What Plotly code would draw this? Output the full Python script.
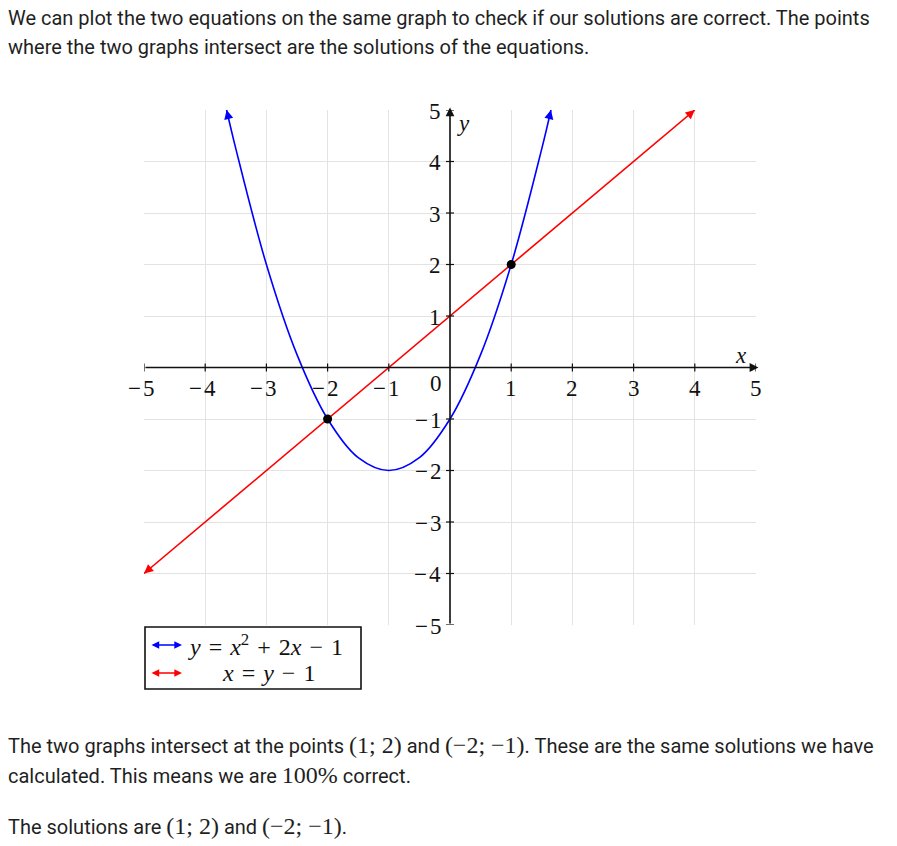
import math
import plotly.graph_objects as go

# ---------------- data ----------------
x_ticks = [-5, -4, -3, -2, -1, 0, 1, 2, 3, 4, 5]
y_ticks = [-5, -4, -3, -2, -1, 0, 1, 2, 3, 4, 5]

# parabola y = x^2 + 2x - 1
par_x = [-3.65, -3.5, -3.0, -2.5, -2.0, -1.5, -1.0, -0.5, 0.0, 0.5, 1.0, 1.5, 1.65]
par_y = [5.0, 4.25, 2.0, 0.25, -1.0, -1.75, -2.0, -1.75, -1.0, 0.25, 2.0, 4.25, 5.0]

# line x = y - 1
line_x = [-5, 4]
line_y = [-4, 5]

# intersection points
pts_x = [1, -2]
pts_y = [2, -1]

SP = " &#8202;"
legend_labels = [f"<i>y</i>{SP}={SP}<i>x</i><sup>2</sup>{SP}+{SP}2<i>x</i>{SP}−{SP}1",
                 f"<i>x</i>{SP}={SP}<i>y</i>{SP}−{SP}1"]

top_lines = [
    "We can plot the two equations on the same graph to check if our solutions are correct. The points",
    "where the two graphs intersect are the solutions of the equations.",
]

BLUE = "#0000ff"
RED = "#ff0000"
SERIF = "Liberation Serif, DejaVu Serif, serif"
SANS = "Roboto, Noto Sans, sans-serif"
TXT = "#1f1f1f"

# --------------- layout helpers ---------------
L, R, T, B = 144, 141, 110, 221
W, H = 897, 846
PW, PH = W - L - R, H - T - B
SX, SY = PW / 10.0, PH / 10.0  # pixels per unit


def fx(p):
    return (p - L) / PW


def fy(p):
    return (H - B - p) / PH


def m(s):
    return f'<span style="font-family:{SERIF};font-size:24px">{s}</span>'


fig = go.Figure()

fig.add_trace(go.Scatter(x=par_x, y=par_y, mode="lines",
                         line=dict(color=BLUE, width=1.6, shape="spline", smoothing=1.0),
                         hoverinfo="skip", showlegend=False, cliponaxis=False))
fig.add_trace(go.Scatter(x=line_x, y=line_y, mode="lines",
                         line=dict(color=RED, width=1.6),
                         hoverinfo="skip", showlegend=False, cliponaxis=False))
fig.add_trace(go.Scatter(x=pts_x, y=pts_y, mode="markers",
                         marker=dict(color="black", size=9),
                         hoverinfo="skip", showlegend=False, cliponaxis=False))

ann = []
shapes = []


def end_arrow(xt, yt, xn, yn, col):
    dx, dy = (xn - xt) * SX, -(yn - yt) * SY
    n = math.hypot(dx, dy)
    return dict(x=xt, y=yt, ax=dx / n * 10, ay=dy / n * 10, xref="x", yref="y", axref="pixel", ayref="pixel",
                showarrow=True, arrowhead=2, arrowsize=1.3, arrowwidth=1.4, arrowcolor=col, text="",
                standoff=0)


# curve-end arrowheads
for xs, ys, col in [(par_x, par_y, BLUE), (line_x, line_y, RED)]:
    ann.append(end_arrow(xs[0], ys[0], xs[1], ys[1], col))
    ann.append(end_arrow(xs[-1], ys[-1], xs[-2], ys[-2], col))

# axes with arrows
ann.append(dict(x=5.04, y=0, ax=x_ticks[0], ay=0, xref="x", yref="y", axref="x", ayref="y",
                showarrow=True, arrowhead=2, arrowsize=1.1, arrowwidth=1.6, arrowcolor="#111", text=""))
ann.append(dict(x=0, y=5.05, ax=0, ay=y_ticks[0], xref="x", yref="y", axref="x", ayref="y",
                showarrow=True, arrowhead=2, arrowsize=1.1, arrowwidth=1.6, arrowcolor="#111", text=""))

# tick marks
for t in x_ticks:
    if t == 0:
        continue
    shapes.append(dict(type="line", xref="x", yref="y", x0=t, x1=t, ysizemode="pixel", yanchor=0,
                       y0=-4, y1=4, line=dict(color="#111", width=1.2)))
for t in y_ticks:
    if t == 0:
        continue
    shapes.append(dict(type="line", xref="x", yref="y", y0=t, y1=t, xsizemode="pixel", xanchor=0,
                       x0=-4, x1=4, line=dict(color="#111", width=1.2)))


def lab(v):
    return ("−&#8202;" + str(-v)) if v < 0 else str(v)


TICKF = dict(family=SERIF, size=23, color="#111")
# tick labels
for t in x_ticks:
    if t == 0:
        ann.append(dict(x=0, y=0, xref="x", yref="y", text="0", showarrow=False,
                        xanchor="center", yanchor="middle", xshift=-14, yshift=-16, font=TICKF))
        continue
    ann.append(dict(x=t, y=0, xref="x", yref="y", text=lab(t), showarrow=False,
                    xanchor="center", yanchor="middle", xshift=(-3 if t < 0 else 0), yshift=-21,
                    font=TICKF))
for t in y_ticks:
    if t == 0:
        continue
    ann.append(dict(x=0, y=t, xref="x", yref="y", text=lab(t), showarrow=False,
                    xanchor="right", yanchor="middle", xshift=-7, yshift=-1, font=TICKF))

# axis names
ann.append(dict(x=fx(741), y=fy(355), xref="paper", yref="paper", text="<i>x</i>", showarrow=False,
                xanchor="center", yanchor="middle", font=dict(family=SERIF, size=23, color="#111")))
ann.append(dict(x=fx(463), y=fy(123), xref="paper", yref="paper", text="<i>y</i>", showarrow=False,
                xanchor="center", yanchor="middle", font=dict(family=SERIF, size=23, color="#111")))

# legend box
shapes.append(dict(type="rect", xref="paper", yref="paper", x0=fx(145), x1=fx(361), y0=fy(689), y1=fy(627),
                   line=dict(color="#111", width=1.6), fillcolor="white"))
for i, (col, txt) in enumerate([(BLUE, legend_labels[0]), (RED, legend_labels[1])]):
    yy = fy(645 + 28 * i)
    ann.append(dict(x=fx(182), y=yy, ax=-32, ay=0, xref="paper", yref="paper", axref="pixel",
                    ayref="pixel", showarrow=True, arrowhead=2, startarrowhead=2, arrowside="end+start",
                    arrowsize=1.1, startarrowsize=1.1, arrowwidth=1.4, arrowcolor=col, text=""))
    if i == 0:
        ann.append(dict(x=fx(186), y=yy, xref="paper", yref="paper", text=txt, showarrow=False,
                        xanchor="left", yanchor="middle", font=dict(family=SERIF, size=24, color="#111")))
    else:
        ann.append(dict(x=fx(268), y=yy, xref="paper", yref="paper", text=txt, showarrow=False,
                        xanchor="center", yanchor="middle", font=dict(family=SERIF, size=24, color="#111")))

# page text
for i, s in enumerate(top_lines):
    ann.append(dict(x=fx(6), y=fy(18 + 29 * i), xref="paper", yref="paper", text=s, showarrow=False,
                    xanchor="left", yanchor="middle", font=dict(family=SANS, size=20, color=TXT)))

bottom_lines = [
    ("The two graphs intersect at the points " + m("(1; 2)") + " and " + m("(−2; −1)")
     + ". These are the same solutions we have", 745),
    ("calculated. This means we are " + m("100%") + " correct.", 775),
    ("The solutions are " + m("(1; 2)") + " and " + m("(−2; −1)") + ".", 826),
]
for s, yp in bottom_lines:
    ann.append(dict(x=fx(6), y=fy(yp), xref="paper", yref="paper", text=s, showarrow=False,
                    xanchor="left", yanchor="middle", font=dict(family=SANS, size=20, color=TXT)))

fig.update_layout(
    width=W, height=H,
    margin=dict(l=L, r=R, t=T, b=B),
    paper_bgcolor="white", plot_bgcolor="white",
    xaxis=dict(range=[-5, 5], dtick=1, showgrid=True, gridcolor="#e3e3e3", gridwidth=1,
               zeroline=False, showticklabels=False, showline=False, fixedrange=True),
    yaxis=dict(range=[-5, 5], dtick=1, showgrid=True, gridcolor="#e3e3e3", gridwidth=1,
               zeroline=False, showticklabels=False, showline=False, fixedrange=True),
    annotations=ann,
    shapes=shapes,
    showlegend=False,
)

fig.write_html("out.html", config={"displayModeBar": False},
               post_script="document.body.style.margin='0';document.body.style.overflow='hidden';")
